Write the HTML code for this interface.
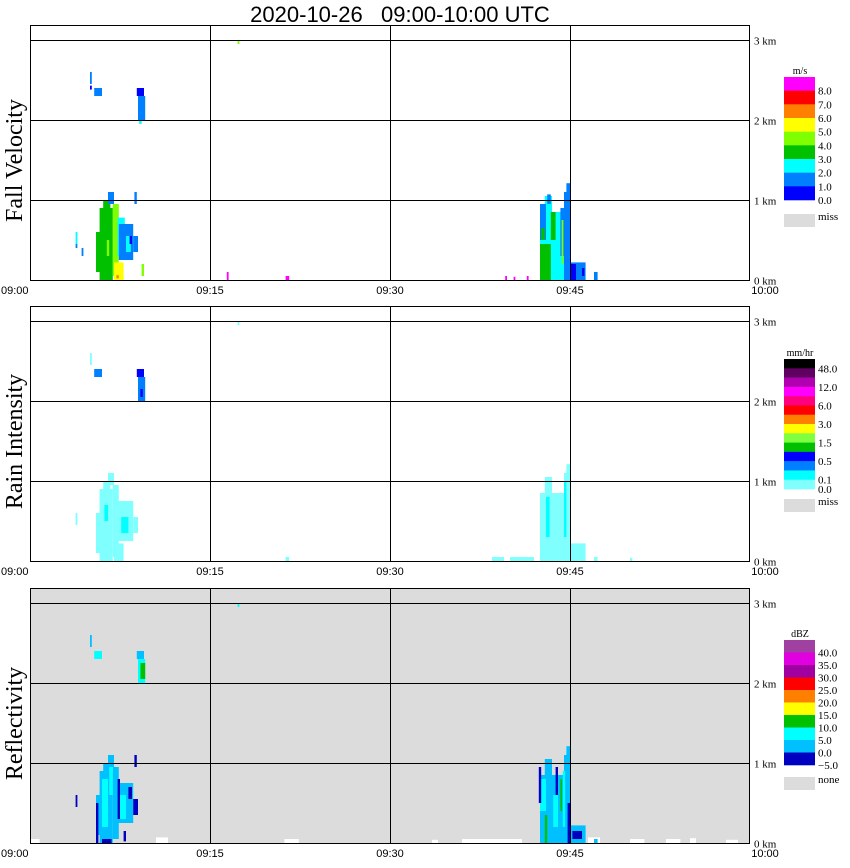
<!DOCTYPE html>
<html><head><meta charset="utf-8"><style>
html,body{margin:0;padding:0;background:#fff;}
svg{display:block;}
</style></head><body>
<svg id="chart" width="850" height="868" xmlns="http://www.w3.org/2000/svg">
<text x="400" y="22" text-anchor="middle" style="white-space:pre" font-family="Liberation Sans, sans-serif" font-size="22">2020-10-26   09:00-10:00 UTC</text>
</svg>
<script>
// ---- data ----
const timeTicks = ["09:00","09:15","09:30","09:45","10:00"];
const tickMinutes = [0,15,30,45,60];
const heightTicks = ["0 km","1 km","2 km","3 km"];
const heightValues = [0,1,2,3];
const panelTitles = ["Fall Velocity","Rain Intensity","Reflectivity"];

const fvEdges = [0,1,2,3,4,5,6,7,8,9];
const fvColors = ["#0000ff","#0080ff","#00ffff","#00c000","#80ff00","#ffff00","#ff8000","#ff0000","#ff00ff"];
const fvLabels = ["8.0","7.0","6.0","5.0","4.0","3.0","2.0","1.0","0.0"];
const rainEdges = [0,0.1,0.25,0.5,1,1.5,2,3,4.5,6,9,12,24,48,96];
const rainColors = ["#80ffff","#00ffff","#0080ff","#0000ff","#00c000","#80ff40","#ffff00","#ff8000","#ff0000","#ff0080","#ff00ff","#b000b0","#600060","#000000"];
const rainLabels = ["48.0","12.0","6.0","3.0","1.5","0.5","0.1","0.0"];
const dbzEdges = [-5,0,5,10,15,20,25,30,35,40,50];
const dbzColors = ["#0000c0","#00c0ff","#00ffff","#00c000","#ffff00","#ff8000","#ff0000","#a000a0","#e000e0","#a040a0"];
const dbzLabels = ["40.0","35.0","30.0","25.0","20.0","15.0","10.0","5.0","0.0","\u22125.0"];

// cells: [startMinute, endMinute, bottomKm, topKm, value]
const fvCells = [
 [5.8,6.9,0.0,0.9,3.5],[5.5,6.2,0.1,0.6,3.5],[6.1,6.7,0.85,1.0,3.5],
 [6.9,7.4,0.05,0.95,4.5],[6.4,6.6,0.3,0.5,4.5],
 [7.3,7.9,0.3,0.78,2.5],[7.4,8.6,0.25,0.7,1.5],[8.0,8.4,0.35,0.55,2.5],[8.6,9.0,0.35,0.55,1.5],
 [7.0,7.8,0.0,0.22,5.5],[7.2,7.4,0.02,0.06,6.5],
 [9.3,9.5,0.05,0.2,4.5],[6.5,7.0,0.95,1.1,1.5],[8.7,8.9,0.95,1.1,1.5],[8.3,8.5,0.45,0.55,0.5],
 [3.8,3.95,0.45,0.6,2.5],[3.8,3.95,0.4,0.45,1.5],[4.3,4.45,0.3,0.4,1.5],
 [5.0,5.15,2.45,2.6,1.5],[5.0,5.15,2.38,2.43,0.5],[5.35,6.0,2.3,2.4,1.5],
 [9.0,9.6,2.0,2.3,1.5],[8.9,9.5,2.3,2.4,0.5],[9.1,9.3,1.95,2.0,2.5],
 [17.3,17.45,2.95,3.0,4.5],
 [16.4,16.55,0.0,0.1,8.5],[21.3,21.6,0.0,0.05,8.5],
 [39.6,39.75,0.0,0.05,8.5],[40.3,40.45,0.0,0.04,8.5],[41.4,41.55,0.0,0.05,8.5],[43.8,43.95,0.0,0.04,8.5],
 [42.5,44.5,0.0,0.85,2.5],[42.9,43.5,0.85,1.05,2.5],
 [42.5,43.0,0.5,0.95,1.5],[43.1,43.4,0.95,1.07,1.5],
 [42.5,43.4,0.0,0.45,3.5],[43.4,43.8,0.5,0.85,3.5],[42.6,42.9,0.5,0.65,3.5],
 [44.2,44.5,0.3,0.9,1.5],[44.5,45.0,0.0,1.1,1.5],[44.7,45.0,1.0,1.21,1.5],
 [44.3,44.45,0.2,0.75,4.5],[45.0,46.3,0.0,0.22,1.5],
 [45.0,45.5,0.0,0.2,0.5],[46.0,46.2,0.05,0.15,0.5],[47.0,47.3,0.0,0.1,1.5]
];
const rainCells = [
 [5.8,6.9,0.0,0.9,0.05],[5.5,6.2,0.1,0.6,0.05],[6.1,6.7,0.85,1.0,0.05],
 [6.9,7.4,0.05,0.95,0.05],[7.3,8.6,0.25,0.75,0.05],[8.6,9.0,0.35,0.55,0.05],
 [7.0,7.8,0.0,0.22,0.05],[6.5,7.0,0.95,1.1,0.05],[3.8,3.95,0.45,0.6,0.05],
 [7.6,8.2,0.35,0.55,0.15],[6.2,6.5,0.5,0.7,0.15],
 [5.0,5.15,2.45,2.6,0.05],[5.35,6.0,2.3,2.4,0.3],
 [9.0,9.6,2.0,2.3,0.3],[8.9,9.5,2.3,2.4,0.7],[9.2,9.4,2.05,2.15,0.7],
 [17.3,17.45,2.95,3.0,0.05],[21.3,21.6,0.0,0.05,0.05],
 [38.5,39.5,0.0,0.05,0.05],[40.0,42.0,0.0,0.05,0.05],
 [42.5,44.5,0.0,0.85,0.05],[42.9,43.5,0.85,1.05,0.05],[44.5,45.0,0.0,1.1,0.05],[44.7,45.0,1.0,1.21,0.05],
 [45.0,46.3,0.0,0.22,0.05],[47.0,47.3,0.0,0.05,0.05],[50.0,50.2,0.0,0.04,0.05],
 [43.0,43.3,0.3,0.8,0.15],[44.5,44.7,0.3,1.0,0.15]
];
const dbzCells = [
 [5.8,6.9,0.0,0.9,3],[5.5,6.2,0.1,0.6,3],[6.1,6.7,0.85,1.0,3],
 [6.9,7.4,0.05,0.95,3],[7.3,8.6,0.25,0.75,3],[8.6,9.0,0.35,0.55,-2],
 [6.0,6.5,0.2,0.8,7],[7.5,8.0,0.3,0.6,7],[6.6,6.9,0.6,1.0,7],
 [5.5,5.7,0.0,0.5,-2],[7.3,7.5,0.3,0.8,-2],[8.2,8.5,0.55,0.7,-2],[6.0,6.8,0.0,0.05,-2],[7.8,8.0,0.02,0.15,-2],
 [6.5,7.0,0.95,1.1,3],[8.7,8.9,0.95,1.1,-2],[3.8,3.95,0.45,0.6,-2],
 [5.0,5.15,2.45,2.6,3],[5.35,6.0,2.3,2.4,7],
 [9.0,9.6,2.0,2.3,7],[9.2,9.6,2.05,2.25,12],[8.9,9.5,2.3,2.4,3],
 [17.3,17.45,2.95,3.0,7],
 [42.5,44.5,0.0,0.85,3],[42.9,43.5,0.85,1.05,3],[44.5,45.0,0.0,1.1,3],[44.7,45.0,1.0,1.21,3],
 [42.5,43.0,0.4,0.8,7],[43.6,44.0,0.2,0.6,7],[44.4,44.6,0.2,0.9,7],
 [42.9,43.1,0.0,0.35,12],[44.2,44.35,0.4,0.8,12],
 [42.4,42.6,0.5,0.95,-2],[43.8,44.0,0.6,0.95,-2],[44.8,45.0,0.0,0.5,-2],
 [45.0,46.3,0.0,0.22,3],[45.2,46.0,0.05,0.15,-2],[47.0,47.3,0.0,0.05,3]
];
// white "none" patches in reflectivity panel: [start, end, topKm]
const dbzGaps = [[0,0.8,0.05],[10.5,11.5,0.07],[21.2,22.4,0.05],[33.5,34.0,0.04],[36.0,41.0,0.05],[46.5,47.5,0.07],[50.0,51.2,0.05],[53.0,54.2,0.05],[55.0,55.5,0.06],[58.0,59.0,0.04]];

// ---- layout ----
const svg = document.getElementById('chart');
const NS = "http://www.w3.org/2000/svg";
const X0 = 30, X1 = 750;
const panels = [{top:25, base:280},{top:306, base:561},{top:588, base:843}];
const xScale = m => X0 + (X1 - X0) * m / 60;
const yScale = (p, km) => p.base - 80 * km;
function mk(tag, attrs, parent){ const e = document.createElementNS(NS, tag); for (const k in attrs) e.setAttribute(k, attrs[k]); (parent||svg).appendChild(e); return e; }
function colorFor(v, edges, colors){ for (let i = 0; i < colors.length; i++) if (v < edges[i+1]) return colors[i]; return colors[colors.length-1]; }

const cellSets = [[fvCells, fvEdges, fvColors],[rainCells, rainEdges, rainColors],[dbzCells, dbzEdges, dbzColors]];
const legends = [
 {unit:"m/s", colors:fvColors, labels:fvLabels, top:77, bottom:200, miss:"miss", missTop:214, labelStart:1},
 {unit:"mm/hr", colors:rainColors, labels:rainLabels, top:359, bottom:489, miss:"miss", missTop:499, labelIdx:[1,3,5,7,9,11,13,14]},
 {unit:"dBZ", colors:dbzColors, labels:dbzLabels, top:640, bottom:765, miss:"none", missTop:777, labelStart:1}
];

panels.forEach((p, pi) => {
  const g = mk('g', {});
  
  
  if (pi === 2) {
    const bg = mk('rect', {x:X0, y:p.top, width:X1-X0, height:p.base-p.top, fill:'#dcdcdc'}, g);
    
    
    dbzGaps.forEach(c => {
      const r = mk('rect', {x:xScale(c[0]), y:yScale(p, c[2]), width:xScale(c[1])-xScale(c[0]), height:yScale(p,0)-yScale(p,c[2]), fill:'#fff'}, g);
      
      
    });
  }
  const [cells, edges, colors] = cellSets[pi];
  cells.forEach(c => {
    const r = mk('rect', {x:xScale(c[0]), y:yScale(p, c[3]), width:xScale(c[1])-xScale(c[0]), height:yScale(p,c[2])-yScale(p,c[3]), fill:colorFor(c[4], edges, colors)}, g);
    
    
  });
  const fr = mk('rect', {x:X0+0.5, y:p.top+0.5, width:X1-X0-1, height:p.base-p.top, fill:'none', stroke:'#000', 'stroke-width':1}, g);
  
  
  tickMinutes.forEach((m, i) => {
    if (i > 0 && i < tickMinutes.length-1) {
      const l = mk('line', {x1:Math.round(xScale(m))+0.5, x2:Math.round(xScale(m))+0.5, y1:p.top, y2:p.base, stroke:'#000'}, g);
      
      
    }
    const t = mk('text', {x: i === 0 ? 1 : (i === tickMinutes.length-1 ? xScale(m)+15 : xScale(m)), y:p.base+14, 'text-anchor': i === 0 ? 'start' : 'middle', 'font-family':'Liberation Sans, sans-serif', 'font-size':11}, g);
    t.textContent = timeTicks[i];
    
    
  });
  heightValues.forEach((h, i) => {
    const y = Math.round(yScale(p, h)) + 0.5;
    const l = mk('line', {x1:X0, x2:X1, y1:y, y2:y, stroke:'#000'}, g);
    
    
    const t = mk('text', {x:754, y:y+4, 'font-family':'Liberation Serif, serif', 'font-size':11}, g);
    t.textContent = heightTicks[i];
    
    
  });
  const yt = mk('text', {x:0, y:0, transform:`translate(22,${(p.top+p.base)/2+8}) rotate(-90)`, 'text-anchor':'middle', 'font-family':'Liberation Serif, serif', 'font-size':24}, g);
  yt.textContent = panelTitles[pi];
  
  

  const L = legends[pi];
  const lg = mk('g', {}, g);
  
  
  const ut = mk('text', {x:800, y:L.top-3, 'text-anchor':'middle', 'font-family':'Liberation Serif, serif', 'font-size':10}, lg);
  ut.textContent = L.unit;
  
  
  const n = L.colors.length, bh = (L.bottom - L.top) / n;
  for (let i = 0; i < n; i++) {
    const r = mk('rect', {x:784, y:L.top + i*bh, width:31, height:bh+0.3, fill:L.colors[n-1-i]}, lg);
    
    
  }
  L.labels.forEach((lab, j) => {
    const idx = L.labelIdx ? L.labelIdx[j] : L.labelStart + j;
    const t = mk('text', {x:818, y:L.top + idx*bh + 4, 'font-family':'Liberation Serif, serif', 'font-size':11}, lg);
    t.textContent = lab;
    
    
  });
  const mr = mk('rect', {x:784, y:L.missTop, width:31, height:13, fill:'#dcdcdc'}, lg);
  
  
  const mt = mk('text', {x:818, y:L.missTop+6, 'font-family':'Liberation Serif, serif', 'font-size':11}, lg);
  mt.textContent = L.miss;
  
  
});
</script>
</body></html>
